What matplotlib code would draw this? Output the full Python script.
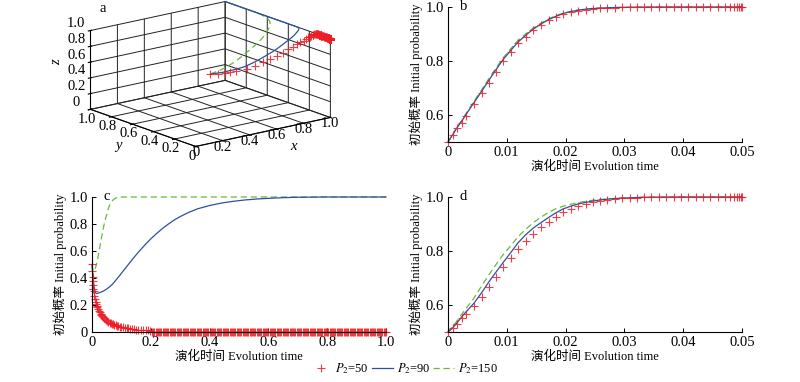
import numpy as np
import matplotlib
matplotlib.use("Agg")
import matplotlib.pyplot as plt
from matplotlib.lines import Line2D

plt.rcParams['font.family'] = ['Liberation Serif', 'Noto Sans CJK SC']
plt.rcParams['mathtext.fontset'] = 'stix'
plt.rcParams['font.size'] = 9
plt.rcParams['axes3d.automargin'] = False

RED = '#ee1c25'
BLUE = '#2e4fa3'
GREEN = '#66bb33'

# sampled times for panels b and d (0 - 0.05)
t_bd = [0, 0.0008, 0.0015, 0.0023, 0.003, 0.0044, 0.0057, 0.0069, 0.0081, 0.0094,
        0.0107, 0.0119, 0.0132, 0.0145, 0.0158, 0.0171, 0.0184, 0.0196, 0.0209, 0.0221,
        0.0234, 0.0246, 0.0259, 0.0271, 0.0284, 0.0296, 0.0309, 0.0321, 0.0334, 0.0346,
        0.0359, 0.0371, 0.0384, 0.0396, 0.0409, 0.0421, 0.0434, 0.0446, 0.0459, 0.0471,
        0.048, 0.0486, 0.0491, 0.0495, 0.0498, 0.05]

# panel b : x(t)
x_p50 = [.5, .525, .55, .57, .595, .64, .68, .72, .76, .80,
         .835, .865, .89, .915, .932, .95, .963, .973, .98, .986,
         .99, .993, .995, .997, .998, .9985, .999, .9993, .9995, .9997,
         .9998, .9999, 1, 1, 1, 1, 1, 1, 1, 1, 1, 1, 1, 1, 1, 1]
x_p90 = [.5, .527, .552, .576, .6, .645, .687, .727, .766, .806,
         .84, .87, .895, .918, .937, .953, .966, .976, .983, .988,
         .992, .994, .996, .997, .998, .9985, .999, .9993, .9995, .9997,
         .9998, .9999, 1, 1, 1, 1, 1, 1, 1, 1, 1, 1, 1, 1, 1, 1]
x_p150 = [.5, .528, .554, .578, .603, .65, .692, .733, .772, .812,
          .846, .876, .9, .922, .94, .956, .968, .977, .984, .989,
          .992, .995, .996, .997, .998, .9985, .999, .9993, .9995, .9997,
          .9998, .9999, 1, 1, 1, 1, 1, 1, 1, 1, 1, 1, 1, 1, 1, 1]

# panel d : z(t)
z_p50 = [.5, .514, .53, .55, .567, .596, .631, .668, .702, .739,
         .773, .807, .838, .863, .888, .906, .927, .943, .955, .966,
         .974, .981, .986, .99, .993, .995, .997, .998, .999, .9993,
         .9995, .9997, .9998, .9999, 1, 1, 1, 1, 1, 1, 1, 1, 1, 1, 1, 1]
z_p90 = [.5, .515, .533, .555, .573, .606, .645, .684, .72, .758,
         .795, .83, .86, .885, .905, .924, .942, .956, .966, .974,
         .98, .985, .989, .992, .994, .996, .997, .998, .999, .9993,
         .9995, .9997, .9998, .9999, 1, 1, 1, 1, 1, 1, 1, 1, 1, 1, 1, 1]
z_p150 = [.5, .52, .54, .565, .585, .625, .67, .71, .748, .787,
          .82, .853, .88, .905, .925, .943, .957, .966, .973, .979,
          .984, .988, .991, .993, .995, .996, .997, .998, .999, .9993,
          .9995, .9997, .9998, .9999, 1, 1, 1, 1, 1, 1, 1, 1, 1, 1, 1, 1]

# y(t) at the same early times (used for the 3-D trajectories)
y_early_p50 = [.5, .46, .43, .40, .375, .335, .305, .285, .268, .252,
               .238, .226, .216, .206, .197, .189, .181, .175, .168, .162,
               .156, .151, .146, .142, .137, .133, .129, .125, .121, .118,
               .115, .112, .109, .106, .103, .1, .098, .096, .093, .091,
               .087, .086, .086, .085, .085, .084]
y_early_p90 = [.5, .47, .44, .415, .39, .36, .34, .325, .315, .305,
               .297, .292, .288, .286, .285, .285, .286, .287, .288, .289,
               .291, .292, .294, .295, .296, .298, .299, .301, .302, .304,
               .305, .307, .308, .31, .311, .313, .314, .316, .317, .319,
               .32, .321, .321, .322, .322, .323]
y_early_p150 = [.5, .49, .475, .465, .46, .455, .452, .453, .456, .46,
                .466, .474, .483, .494, .505, .518, .532, .545, .56, .575,
                .59, .605, .62, .635, .65, .665, .68, .695, .71, .722,
                .735, .748, .76, .772, .79, .80, .812, .825, .836, .847,
                .853, .858, .862, .865, .868, .87]

# panel c : y(t) over 0 - 1
tc_p50 = [0, 0.001, 0.002, 0.003, 0.004, 0.005, 0.006, 0.008, 0.01, 0.012,
          0.014, 0.016, 0.018, 0.02, 0.023, 0.026, 0.029, 0.032, 0.035, 0.038,
          0.041, 0.044, 0.048, 0.052, 0.056, 0.06, 0.064, 0.068, 0.072, 0.076,
          0.08, 0.085, 0.09, 0.095, 0.1, 0.106, 0.112, 0.118, 0.124, 0.13,
          0.137, 0.144, 0.151, 0.158, 0.166, 0.174, 0.182, 0.19, 0.198]
yc_p50 = [.5, .45, .41, .375, .345, .32, .30, .27, .245, .225,
          .21, .196, .184, .173, .158, .146, .135, .125, .116, .108,
          .101, .095, .087, .081, .075, .07, .065, .061, .057, .053,
          .05, .046, .043, .04, .037, .034, .031, .028, .026, .024,
          .022, .02, .018, .017, .015, .014, .013, .012, .011]
# long flat tail of the P2=50 run, sitting on zero
tc_p50_tail = np.arange(0.204, 1.0001, 0.004)
yc_p50_tail = np.full(len(tc_p50_tail), 0.003)

tc_p90 = [0, 0.002, 0.005, 0.008, 0.012, 0.016, 0.02, 0.03, 0.04, 0.05,
          0.06, 0.07, 0.08, 0.09, 0.1, 0.12, 0.14, 0.16, 0.18, 0.2,
          0.22, 0.24, 0.26, 0.28, 0.3, 0.33, 0.36, 0.4, 0.44, 0.48,
          0.52, 0.56, 0.6, 0.65, 0.7, 0.8, 0.9, 1.0]
yc_p90 = [.5, .44, .37, .32, .29, .285, .287, .295, .305, .318,
          .335, .355, .381, .407, .435, .49, .545, .597, .645, .69,
          .73, .767, .8, .83, .855, .887, .913, .937, .955, .968,
          .978, .985, .99, .995, .998, 1, 1, 1]

tc_p150 = [0, 0.003, 0.006, 0.01, 0.015, 0.02, 0.025, 0.03, 0.035, 0.04,
           0.045, 0.05, 0.055, 0.06, 0.07, 0.08, 0.09, 0.1, 0.2, 0.4,
           0.6, 0.8, 1.0]
yc_p150 = [.5, .46, .45, .46, .5, .55, .61, .67, .73, .785,
           .83, .87, .91, .94, .975, .992, .998, 1, 1, 1,
           1, 1, 1]

labels = [r'$\mathit{P}_2$=50', r'$\mathit{P}_2$=90', r'$\mathit{P}_2$=150']
xlab = '演化时间 Evolution time'
ylab = '初始概率 Initial probability'

TICK_FS = 10.5
LAB_FS = 9

fig = plt.figure(figsize=(8, 3.82), dpi=100)

red_kw = dict(ls='none', marker='+', ms=6, mew=0.8, color=RED, alpha=0.85)
blue_kw = dict(ls='-', lw=0.9, color=BLUE)
green_kw = dict(ls=(0, (5, 3)), lw=0.9, color=GREEN)


def style2d(ax, letter):
    for s in ['top', 'right']:
        ax.spines[s].set_visible(False)
    ax.spines['left'].set_linewidth(0.8)
    ax.spines['bottom'].set_linewidth(0.8)
    ax.tick_params(direction='in', length=3, width=0.7, pad=3, labelsize=TICK_FS)
    ax.set_xlabel(xlab, fontsize=LAB_FS, labelpad=1)
    ax.set_ylabel(ylab, fontsize=LAB_FS, labelpad=2)
    ax.text(0.04, 1.0, letter, transform=ax.transAxes, fontsize=10.5, va='center', ha='left')


# ---- panel b
axb = fig.add_axes([0.56, 0.6283, 0.3675, 0.3534])
axb.plot(t_bd, x_p150, clip_on=False, **green_kw)
axb.plot(t_bd, x_p90, clip_on=False, **blue_kw)
axb.plot(t_bd, x_p50, clip_on=False, **red_kw)
axb.set_xlim(0, 0.05)
axb.set_ylim(0.5, 1.0)
axb.set_xticks([0, 0.01, 0.02, 0.03, 0.04, 0.05])
axb.set_xticklabels(['0', '0.01', '0.02', '0.03', '0.04', '0.05'])
axb.set_yticks([0.6, 0.8, 1.0])
axb.set_yticklabels(['0.6', '0.8', '1.0'])
style2d(axb, 'b')

# ---- panel d
axd = fig.add_axes([0.56, 0.1309, 0.3675, 0.3534])
axd.plot(t_bd, z_p150, clip_on=False, **green_kw)
axd.plot(t_bd, z_p90, clip_on=False, **blue_kw)
axd.plot(t_bd, z_p50, clip_on=False, **red_kw)
axd.set_xlim(0, 0.05)
axd.set_ylim(0.5, 1.0)
axd.set_xticks([0, 0.01, 0.02, 0.03, 0.04, 0.05])
axd.set_xticklabels(['0', '0.01', '0.02', '0.03', '0.04', '0.05'])
axd.set_yticks([0.6, 0.8, 1.0])
axd.set_yticklabels(['0.6', '0.8', '1.0'])
style2d(axd, 'd')

# ---- panel c
axc = fig.add_axes([0.115, 0.1309, 0.3675, 0.3534])
axc.plot(tc_p150, yc_p150, clip_on=False, **green_kw)
axc.plot(tc_p90, yc_p90, clip_on=False, **blue_kw)
axc.plot(tc_p50, yc_p50, clip_on=False, **red_kw)
axc.plot(tc_p50_tail, yc_p50_tail, clip_on=False, **red_kw)
axc.set_xlim(0, 1.0)
axc.set_ylim(0, 1.0)
axc.set_xticks([0, 0.2, 0.4, 0.6, 0.8, 1.0])
axc.set_xticklabels(['0', '0.2', '0.4', '0.6', '0.8', '1.0'])
axc.set_yticks([0, 0.2, 0.4, 0.6, 0.8, 1.0])
axc.set_yticklabels(['0', '0.2', '0.4', '0.6', '0.8', '1.0'])
style2d(axc, 'c')


# ---- panel a (3-D trajectories: x from b, y from c, z from d)
def traj(xe, ye, ze, tc, yc, tail_t=None, tail_y=None):
    tc = np.asarray(tc)
    yc = np.asarray(yc)
    late = tc > 0.05
    xs = list(xe) + [1.0] * int(late.sum())
    ys = list(ye) + list(yc[late])
    zs = list(ze) + [1.0] * int(late.sum())
    if tail_t is not None:
        xs += [1.0] * len(tail_t)
        ys += list(tail_y)
        zs += [1.0] * len(tail_t)
    return xs, ys, zs


axa = fig.add_axes([0.03, 0.565, 0.46, 0.47], projection='3d', proj_type='ortho')
axa.view_init(elev=16, azim=-128)
axa.set_box_aspect((1, 1, 0.48), zoom=1.38)
axa.set_xlim(0, 1.0005)
axa.set_ylim(0, 1.0005)
axa.set_zlim(0, 1.0005)

# the zoomed box spills past the square axes bbox, so do not clip
xs, ys, zs = traj(x_p150, y_early_p150, z_p150, tc_p150, yc_p150)
axa.plot(xs, ys, zs, clip_on=False, **green_kw)
xs, ys, zs = traj(x_p90, y_early_p90, z_p90, tc_p90, yc_p90)
axa.plot(xs, ys, zs, clip_on=False, **blue_kw)
xs, ys, zs = traj(x_p50, y_early_p50, z_p50, tc_p50, yc_p50, tc_p50_tail, yc_p50_tail)
axa.plot(xs, ys, zs, clip_on=False, **red_kw)

ticks = [0, 0.2, 0.4, 0.6, 0.8, 1.0]
tlabs = ['0', '0.2', '0.4', '0.6', '0.8', '1.0']
for axis in [axa.xaxis, axa.yaxis, axa.zaxis]:
    axis.set_pane_color((1, 1, 1, 0))
    axis.pane.set_edgecolor('k')
    axis._axinfo['grid'].update(color='#222222', linewidth=0.7)
    axis.line.set_linewidth(0.8)
axa.set_xticks(ticks)
axa.set_yticks(ticks)
axa.set_zticks(ticks)
axa.set_xticklabels(tlabs)
axa.set_yticklabels(tlabs)
axa.set_zticklabels(tlabs, va='bottom')
axa.tick_params(labelsize=TICK_FS)
axa.xaxis.set_tick_params(pad=-8)
axa.yaxis.set_tick_params(pad=-6)
axa.zaxis.set_tick_params(pad=-4)
axa.set_xlabel('')
axa.set_ylabel('')
axa.set_zlabel('')
fig.text(293 / 800, 1 - 147 / 382, 'x', fontstyle='italic', fontsize=TICK_FS, ha='center', va='center')
fig.text(118 / 800, 1 - 145 / 382, 'y', fontstyle='italic', fontsize=TICK_FS, ha='center', va='center')
fig.text(57 / 800, 1 - 62 / 382, 'z', fontstyle='italic', fontsize=TICK_FS, ha='center', va='center',
         rotation=90)
fig.text(100 / 800, 1 - 8 / 382, 'a', fontsize=10.5, va='center')

# ---- legend
handles = [Line2D([], [], **red_kw), Line2D([], [], **blue_kw), Line2D([], [], **green_kw)]
fig.legend(handles, labels, loc='center', bbox_to_anchor=(0.505, 0.035), ncol=3,
           frameon=False, fontsize=9, handlelength=1.7, columnspacing=0.2,
           handletextpad=0.3, borderpad=0)

fig.savefig('out.png', dpi=100)
